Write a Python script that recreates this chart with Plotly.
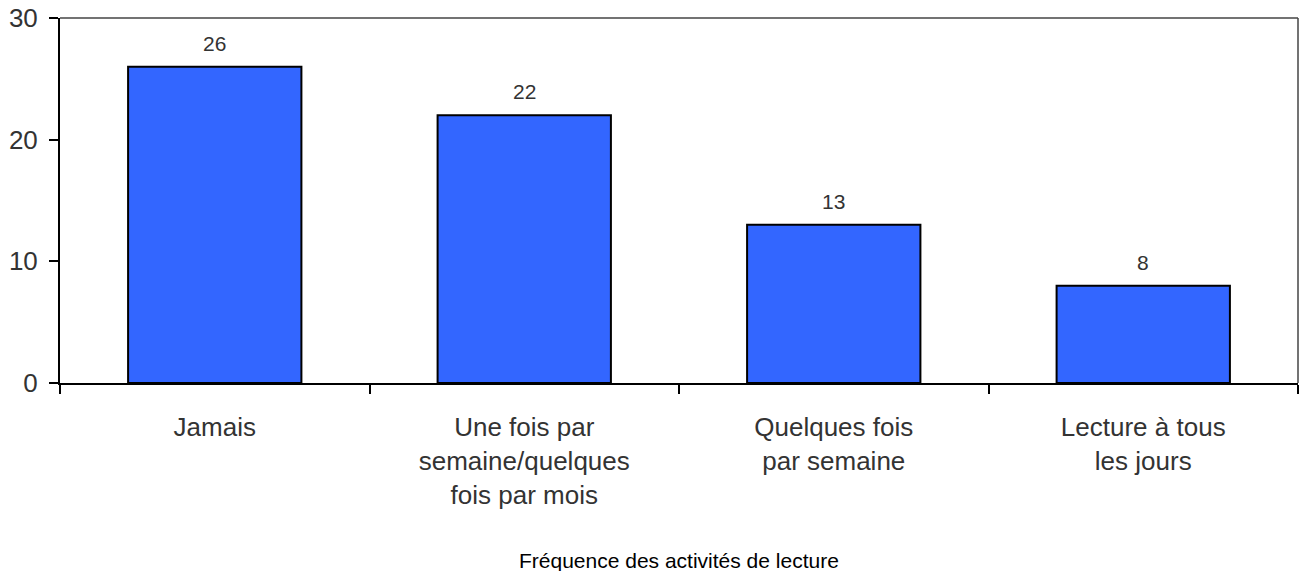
import plotly.graph_objects as go

categories = [
    "Jamais",
    "Une fois par<br>semaine/quelques<br>fois par mois",
    "Quelques fois<br>par semaine",
    "Lecture à tous<br>les jours",
]
values = [26, 22, 13, 8]
y_ticks = [0, 10, 20, 30]
x_title = "Fréquence des activités de lecture"

FONT = "Liberation Sans, Arial, Helvetica, sans-serif"

fig = go.Figure()
fig.add_trace(go.Bar(
    x=categories,
    y=values,
    width=0.56,
    marker=dict(color="#3366FF", line=dict(color="black", width=2)),
    hoverinfo="skip",
))

# value labels above each bar
for c, v in zip(categories, values):
    fig.add_annotation(
        x=c, y=v, text=str(v), showarrow=False,
        yanchor="bottom", yshift=10,
        font=dict(family=FONT, size=21, color="#333333"),
    )

# axis title below the category labels
fig.add_annotation(
    x=0.5, y=0, xref="paper", yref="paper", text=x_title,
    showarrow=False, yanchor="middle", yshift=-177,
    font=dict(family=FONT, size=21, color="#000000"),
)

# top and right edges of the plot frame
fig.add_shape(type="line", xref="paper", yref="paper", x0=0, x1=1, y0=1, y1=1,
              line=dict(color="#444444", width=1.5))
fig.add_shape(type="line", xref="paper", yref="paper", x0=1, x1=1, y0=0, y1=1,
              line=dict(color="#444444", width=1.5))

fig.update_layout(
    width=1301, height=571,
    margin=dict(l=60, r=3, t=18, b=188),
    plot_bgcolor="white", paper_bgcolor="white",
    showlegend=False,
    font=dict(family=FONT, color="#333333"),
    xaxis=dict(
        type="category",
        tickson="boundaries",
        ticks="outside", ticklen=9, tickwidth=2, tickcolor="black",
        showline=True, linecolor="black", linewidth=2,
        showgrid=False,
        tickfont=dict(family=FONT, size=26, color="#333333"),
        ticklabelstandoff=20,
    ),
    yaxis=dict(
        range=[0, 30],
        tickvals=y_ticks,
        ticks="outside", ticklen=9, tickwidth=2, tickcolor="black",
        showline=True, linecolor="black", linewidth=2,
        showgrid=False, zeroline=False,
        tickfont=dict(family=FONT, size=26, color="#333333"),
        ticklabelstandoff=6,
    ),
)

fig.write_html("out.html")
